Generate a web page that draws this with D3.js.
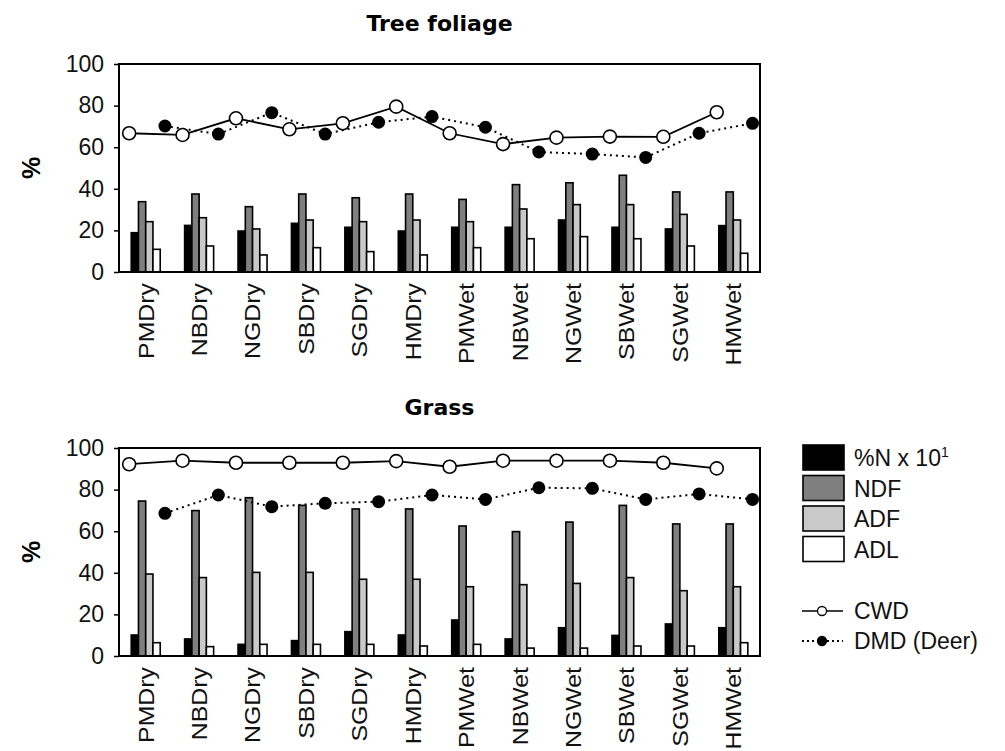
<!DOCTYPE html>
<html>
<head>
<meta charset="utf-8">
<script src="https://cdn.jsdelivr.net/npm/d3@7"></script>
<style>
  html, body { margin: 0; padding: 0; background: #fff; }
  svg { display: block; }
</style>
</head>
<body>
<svg id="chart" width="1005" height="751"></svg>
<script>
const categories = ["PMDry","NBDry","NGDry","SBDry","SGDry","HMDry","PMWet","NBWet","NGWet","SBWet","SGWet","HMWet"];
const yTicks = [0, 20, 40, 60, 80, 100];
const seriesKeys = ["N", "NDF", "ADF", "ADL"];

// Tree foliage
const treeN   = [18.9, 22.4, 19.7, 23.4, 21.5, 19.7, 21.5, 21.5, 25.0, 21.5, 20.7, 22.3];
const treeNDF = [33.8, 37.5, 31.4, 37.5, 35.7, 37.5, 34.9, 42.0, 42.9, 46.5, 38.5, 38.5];
const treeADF = [24.2, 26.1, 20.7, 25.0, 24.2, 25.0, 24.2, 30.3, 32.4, 32.4, 27.7, 25.0];
const treeADL = [10.9, 12.5, 8.2, 11.7, 9.8, 8.2, 11.7, 16.0, 17.0, 16.0, 12.5, 9.0];
const treeCWD = [66.7, 65.9, 73.9, 68.6, 71.5, 79.5, 66.7, 61.5, 64.6, 65.1, 65.0, 76.8];
const treeDMD = [70.2, 66.3, 76.6, 66.3, 72.0, 74.7, 69.6, 57.7, 56.7, 55.1, 66.7, 71.5];

// Grass
const grassN   = [10.1, 8.2, 5.6, 7.4, 11.7, 10.1, 17.3, 8.2, 13.6, 9.9, 15.4, 13.6];
const grassNDF = [74.5, 69.9, 76.1, 72.4, 70.7, 70.7, 62.5, 59.8, 64.4, 72.4, 63.5, 63.5];
const grassADF = [39.4, 37.7, 40.2, 40.2, 36.9, 36.9, 33.3, 34.3, 34.9, 37.7, 31.4, 33.3];
const grassADL = [6.4, 4.5, 5.6, 5.6, 5.6, 4.8, 5.6, 3.8, 3.8, 4.8, 4.8, 6.4];
const grassCWD = [92.2, 93.9, 92.9, 92.9, 92.9, 93.7, 91.0, 93.9, 93.9, 93.9, 92.9, 90.2];
const grassDMD = [68.6, 77.4, 71.8, 73.4, 74.2, 77.4, 75.3, 80.9, 80.6, 75.3, 77.9, 75.3];

const legendBars = ["%N x 10", "NDF", "ADF", "ADL"];
const legendLines = ["CWD", "DMD (Deer)"];

const fills = {N: "#000000", NDF: "#7f7f7f", ADF: "#c9c9c9", ADL: "#ffffff"};
const svg = d3.select("#chart");
const FONT = "'Liberation Sans', Arial, sans-serif";

function drawPanel(cfg) {
  const {title, top, bottom, bars, cwd, dmd} = cfg;
  const left = 119, right = 760;
  const x0 = d3.scaleBand().domain(categories).range([left, right]).padding(0);
  const bw = x0.bandwidth();
  const x1 = d3.scaleBand().domain(seriesKeys).range([bw / 2 - 14.5, bw / 2 + 14.5]).padding(0);
  const y = d3.scaleLinear().domain([0, 100]).range([bottom, top]);
  const g = svg.append("g");

  // Title
  g.append("text").attr("x", (left + right) / 2).attr("y", top - 33)
    .attr("text-anchor", "middle").attr("font-family", "'DejaVu Sans', Verdana, sans-serif")
    .attr("font-weight", "bold").attr("font-size", 22).text(title);

  // Y axis label
  g.append("text").attr("transform", `translate(${40},${(top + bottom) / 2}) rotate(-90)`)
    .attr("text-anchor", "middle").attr("font-family", FONT).attr("font-weight", "bold")
    .attr("font-size", 25).text("%");

  // Y axis
  const yAxis = d3.axisLeft(y).tickValues(yTicks).tickSize(5).tickPadding(10).tickSizeOuter(0);
  const ya = g.append("g").attr("transform", `translate(${left},0)`).call(yAxis);
  ya.select(".domain").remove();
  ya.selectAll("line").attr("stroke", "#000").attr("stroke-width", 1.5);
  ya.selectAll("text").attr("font-family", FONT).attr("font-size", 23).attr("fill", "#111");

  // X axis labels
  const xAxis = d3.axisBottom(x0).tickSize(0).tickPadding(0);
  const xa = g.append("g").attr("transform", `translate(0,${bottom})`).call(xAxis);
  xa.select(".domain").remove();
  xa.selectAll("text")
    .attr("font-family", FONT).attr("font-size", 22).attr("fill", "#111")
    .attr("text-anchor", "end")
    .attr("transform", "translate(0,11) rotate(-90) scale(1.13,1)")
    .attr("x", 0).attr("y", 0).attr("dy", "0.36em");

  // Bars
  const rows = categories.map((c, i) => ({cat: c, vals: seriesKeys.map((k, j) => ({key: k, v: bars[j][i]}))}));
  const grp = g.selectAll(".grp").data(rows).join("g")
    .attr("transform", d => `translate(${x0(d.cat)},0)`);
  grp.selectAll("rect").data(d => d.vals).join("rect")
    .attr("x", d => x1(d.key)).attr("width", x1.bandwidth())
    .attr("y", d => y(d.v)).attr("height", d => y(0) - y(d.v))
    .attr("fill", d => fills[d.key]).attr("stroke", "#000").attr("stroke-width", 1.6);

  // Lines
  const cwdX = c => x0(c) + bw * 0.19;
  const dmdX = c => x0(c) + bw * 0.86;
  const lineC = d3.line().x((d, i) => cwdX(categories[i])).y(d => y(d));
  const lineD = d3.line().x((d, i) => dmdX(categories[i])).y(d => y(d));
  g.append("path").attr("d", lineD(dmd)).attr("fill", "none").attr("stroke", "#000")
    .attr("stroke-width", 2).attr("stroke-dasharray", "2,4");
  g.append("path").attr("d", lineC(cwd)).attr("fill", "none").attr("stroke", "#000")
    .attr("stroke-width", 1.8);
  g.selectAll(".dmd").data(dmd).join("circle")
    .attr("cx", (d, i) => dmdX(categories[i])).attr("cy", d => y(d)).attr("r", 6.5)
    .attr("fill", "#000");
  g.selectAll(".cwd").data(cwd).join("circle")
    .attr("cx", (d, i) => cwdX(categories[i])).attr("cy", d => y(d)).attr("r", 6.5)
    .attr("fill", "#fff").attr("stroke", "#000").attr("stroke-width", 1.6);

  // Frame
  g.append("rect").attr("x", left).attr("y", top).attr("width", right - left).attr("height", bottom - top)
    .attr("fill", "none").attr("stroke", "#000").attr("stroke-width", 2);
}

drawPanel({title: "Tree foliage", top: 64, bottom: 272,
  bars: [treeN, treeNDF, treeADF, treeADL], cwd: treeCWD, dmd: treeDMD});
drawPanel({title: "Grass", top: 448, bottom: 656,
  bars: [grassN, grassNDF, grassADF, grassADL], cwd: grassCWD, dmd: grassDMD});

// Legend
const lg = svg.append("g");
legendBars.forEach((name, i) => {
  const yy = 445 + i * 30.5;
  lg.append("rect").attr("x", 803).attr("y", yy).attr("width", 41).attr("height", 25)
    .attr("fill", fills[seriesKeys[i]]).attr("stroke", "#000").attr("stroke-width", 1.6);
  const t = lg.append("text").attr("x", 854).attr("y", yy + 21)
    .attr("font-family", FONT).attr("font-size", 23).attr("fill", "#111").text(name);
  if (i === 0) {
    t.append("tspan").attr("dy", -9).attr("font-size", 14).text("1");
  }
});
legendLines.forEach((name, i) => {
  const yy = 611 + i * 30;
  lg.append("line").attr("x1", 802).attr("x2", 843).attr("y1", yy).attr("y2", yy)
    .attr("stroke", "#000").attr("stroke-width", i === 0 ? 1.5 : 2)
    .attr("stroke-dasharray", i === 0 ? null : "2,3");
  lg.append("circle").attr("cx", 822).attr("cy", yy).attr("r", 4.5)
    .attr("fill", i === 0 ? "#fff" : "#000").attr("stroke", "#000").attr("stroke-width", 1.3);
  lg.append("text").attr("x", 854).attr("y", yy + 8)
    .attr("font-family", FONT).attr("font-size", 23).attr("fill", "#111").text(name);
});
</script>
</body>
</html>
